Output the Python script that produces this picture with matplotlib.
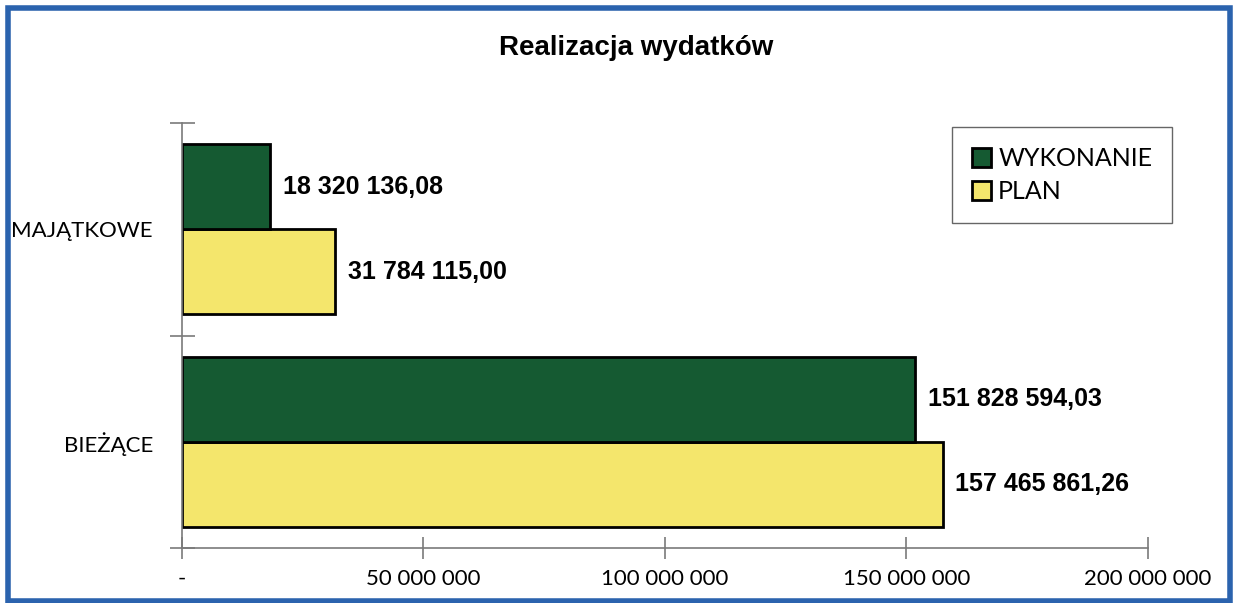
import matplotlib.pyplot as plt
from matplotlib.patches import Rectangle
from matplotlib.ticker import FuncFormatter

categories = ['BIEŻĄCE', 'MAJĄTKOWE']
wykonanie = [151828594.03, 18320136.08]
plan = [157465861.26, 31784115.00]
x_ticks = [0, 50000000, 100000000, 150000000, 200000000]

green = '#155a32'
yellow = '#f4e66c'


def pl_number(v, decimals=2):
    s = f'{v:,.{decimals}f}'
    return s.replace(',', ' ').replace('.', ',')


def axis_fmt(v, pos):
    if v == 0:
        return '-'
    return f'{v:,.0f}'.replace(',', ' ')


fig = plt.figure(figsize=(12.36, 6.03), dpi=100)
ax = fig.add_axes([0.1472, 0.0912, 0.7816, 0.7048])

y = list(range(len(categories)))
h = 0.4
y_plan = [i - h / 2 for i in y]
y_wyk = [i + h / 2 for i in y]

b_plan = ax.barh(y_plan, plan, height=h, color=yellow, edgecolor='black', linewidth=2, label='PLAN')
b_wyk = ax.barh(y_wyk, wykonanie, height=h, color=green, edgecolor='black', linewidth=2, label='WYKONANIE')

for bars, vals in [(b_wyk, wykonanie), (b_plan, plan)]:
    ax.bar_label(bars, labels=[pl_number(v) for v in vals], padding=9,
                 fontsize=18, fontweight='bold', family='Liberation Sans')

ax.set_xlim(0, 200000000)
ax.set_ylim(-0.5, 1.5)
ax.set_xticks(x_ticks)
ax.xaxis.set_major_formatter(FuncFormatter(axis_fmt))
ax.set_yticks(y)
ax.set_yticklabels(categories)
ax.set_yticks([-0.5, 0.5, 1.5], minor=True)

for s in ['top', 'right']:
    ax.spines[s].set_visible(False)
for s in ['left', 'bottom']:
    ax.spines[s].set_color('#7a7a7a')
    ax.spines[s].set_linewidth(1.2)

ax.tick_params(axis='x', direction='inout', length=16, width=1.2, color='#7a7a7a',
               pad=7, labelsize=16)
ax.tick_params(axis='y', which='major', length=0, pad=21, labelsize=16)
ax.tick_params(axis='y', which='minor', direction='inout', length=18, width=1.2, color='#7a7a7a')
for lbl in ax.get_xticklabels() + ax.get_yticklabels():
    lbl.set_family('Lato')

handles, labels = ax.get_legend_handles_labels()
leg = ax.legend(handles[::-1], labels[::-1], loc='upper right', bbox_to_anchor=(0.8, 0.99, 0.225, 0.0),
                borderaxespad=0, prop={'family': 'Lato', 'size': 18}, frameon=True, fancybox=False,
                edgecolor='#404040', handlelength=0.75, handleheight=0.75, handletextpad=0.3,
                labelspacing=0.4, borderpad=0.8)
leg.get_frame().set_linewidth(1.0)

fig.text(0.5146, 0.92, 'Realizacja wydatków', ha='center', va='center',
         fontsize=20, fontweight='bold', family='Liberation Sans')

fig.patches.append(Rectangle((8 / 1236, 2 / 603), 1222 / 1236, 593 / 603,
                             transform=fig.transFigure, fill=False,
                             edgecolor='#2b63ae', linewidth=4))

fig.savefig('out.png', dpi=100)
